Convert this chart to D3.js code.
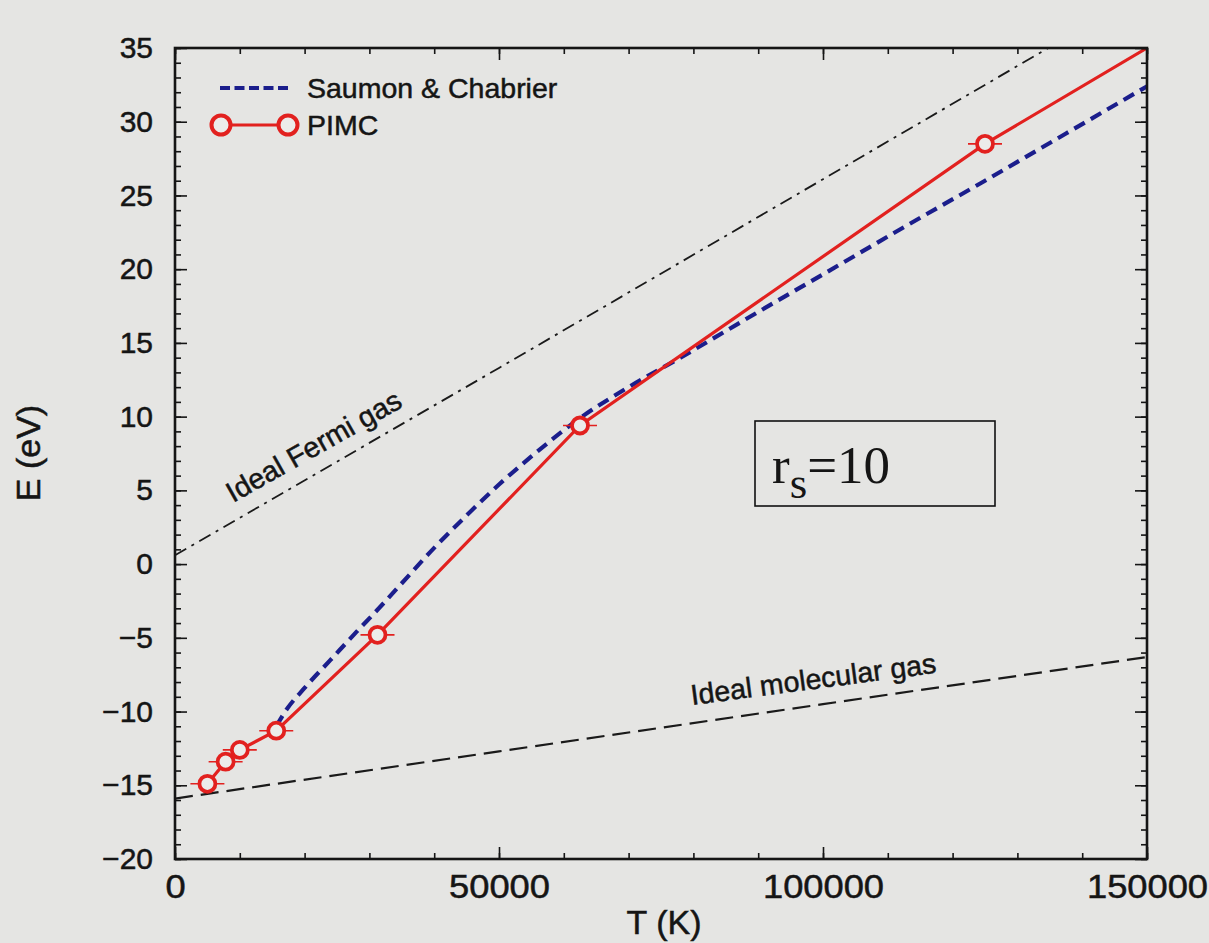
<!DOCTYPE html>
<html>
<head>
<meta charset="utf-8">
<script src="https://cdn.jsdelivr.net/npm/d3@7"></script>
<style>
  html, body { margin: 0; padding: 0; background: #e5e5e3; }
  svg { display: block; }
  text { font-family: "Liberation Sans", Arial, Helvetica, sans-serif; fill: #151515;
         stroke: #151515; stroke-width: 0.5px; }
  text.serif { stroke: none; }
</style>
</head>
<body>
<svg id="chart" width="1209" height="943"></svg>
<script>
// Internal energy per atom of hydrogen at r_s = 10 versus temperature.

// PIMC results (T in K, E in eV); the last point lies beyond the plotted range
const pimcT = [5000, 7812, 10000, 15625, 31250, 62500, 125000, 250000];
const pimcE = [-14.9, -13.4, -12.6, -11.3, -4.8, 9.4, 28.5, 61.0];

// Saumon & Chabrier model
const scT = [15625, 17000, 20000, 24000, 28000, 31250, 35000, 40000, 45000, 50000,
             55000, 62500, 70000, 78000, 90000, 100000, 112500, 125000, 137500, 150000];
const scE = [-11.0, -10.0, -8.4, -6.5, -4.6, -3.1, -1.3, 1.1, 3.3, 5.4,
             7.3, 9.9, 12.0, 14.0, 17.1, 19.65, 22.85, 26.0, 29.2, 32.4];

// Ideal Fermi gas
const fermiT = [0, 50000, 100000, 150000];
const fermiE = [0.6, 13.3, 26.1, 38.9];

// Ideal molecular gas
const molT = [0, 50000, 100000, 150000];
const molE = [-15.9, -12.7, -9.5, -6.3];

// Axis ticks
const xMajor = [0, 50000, 100000, 150000];
const xMinor = d3.range(0, 150001, 10000);
const yMajor = [-20, -15, -10, -5, 0, 5, 10, 15, 20, 25, 30, 35];
const yMinor = d3.range(-20, 35.01, 1);

const W = 1209, H = 943;
const L = 175, R = 1147, T = 48, B = 859;

const svg = d3.select("#chart");
svg.append("rect").attr("width", W).attr("height", H).attr("fill", "#e5e5e3");

const x = d3.scaleLinear().domain([0, 150000]).range([L, R]);
const y = d3.scaleLinear().domain([-20, 35]).range([B, T]);

const red = "#e2211f", blue = "#1b1e8c", ink = "#151515";

svg.append("clipPath").attr("id", "plot")
  .append("rect").attr("x", L).attr("y", T).attr("width", R - L).attr("height", B - T);

const line = d3.line().x(d => x(d[0])).y(d => y(d[1]));
const smooth = d3.line().curve(d3.curveMonotoneX).x(d => x(d[0])).y(d => y(d[1]));
const zip = (a, b) => a.map((v, i) => [v, b[i]]);

const g = svg.append("g").attr("clip-path", "url(#plot)");

// Ideal Fermi gas (dash-dot)
g.append("path").datum(zip(fermiT, fermiE)).attr("d", line)
  .attr("fill", "none").attr("stroke", "#1a1a1a").attr("stroke-width", 1.8)
  .attr("stroke-dasharray", "13 6 3 6");

// Ideal molecular gas (dashed)
g.append("path").datum(zip(molT, molE)).attr("d", line)
  .attr("fill", "none").attr("stroke", "#1a1a1a").attr("stroke-width", 2.2)
  .attr("stroke-dasharray", "18 8");

// Saumon & Chabrier (blue dashed)
g.append("path").datum(zip(scT, scE)).attr("d", smooth)
  .attr("fill", "none").attr("stroke", blue).attr("stroke-width", 4.2)
  .attr("stroke-dasharray", "12 7");

// PIMC line
const pimc = zip(pimcT, pimcE);
g.append("path").datum(pimc).attr("d", line)
  .attr("fill", "none").attr("stroke", red).attr("stroke-width", 3.2);

// PIMC error bars (horizontal) and markers
const pts = g.selectAll(".pt").data(pimc.filter(d => d[0] <= 150000)).join("g").attr("class", "pt");
pts.append("line")
  .attr("x1", d => x(d[0]) - 17).attr("x2", d => x(d[0]) + 17)
  .attr("y1", d => y(d[1])).attr("y2", d => y(d[1]))
  .attr("stroke", red).attr("stroke-width", 1.6);
pts.append("circle")
  .attr("cx", d => x(d[0])).attr("cy", d => y(d[1])).attr("r", 8)
  .attr("fill", "#ececea").attr("stroke", red).attr("stroke-width", 3.8);

// Axes with inward ticks on all four sides
function styleAxis(sel) {
  sel.select(".domain").remove();
  sel.selectAll(".tick line").attr("stroke", ink).attr("stroke-width", 1.6);
}
const fmt = d => d3.format("d")(d);

svg.append("g").attr("transform", `translate(0,${B})`)
  .call(d3.axisBottom(x).tickValues(xMinor).tickSize(-6).tickFormat("")).call(styleAxis);
svg.append("g").attr("transform", `translate(0,${B})`)
  .call(d3.axisBottom(x).tickValues(xMajor).tickSize(-12).tickPadding(16).tickFormat(fmt))
  .call(styleAxis)
  .call(s => s.selectAll("text").attr("font-size", 33).attr("fill", ink)
    .attr("font-family", "Liberation Sans, Arial, sans-serif")
    .attr("transform", "scale(1.1,1)"));
svg.append("g").attr("transform", `translate(0,${T})`)
  .call(d3.axisTop(x).tickValues(xMinor).tickSize(-6).tickFormat("")).call(styleAxis);
svg.append("g").attr("transform", `translate(0,${T})`)
  .call(d3.axisTop(x).tickValues(xMajor).tickSize(-12).tickFormat("")).call(styleAxis);

svg.append("g").attr("transform", `translate(${L},0)`)
  .call(d3.axisLeft(y).tickValues(yMinor).tickSize(-6).tickFormat("")).call(styleAxis);
svg.append("g").attr("transform", `translate(${L},0)`)
  .call(d3.axisLeft(y).tickValues(yMajor).tickSize(-12).tickPadding(22).tickFormat(fmt))
  .call(styleAxis)
  .call(s => s.selectAll("text").attr("font-size", 30).attr("fill", ink)
    .attr("font-family", "Liberation Sans, Arial, sans-serif"));
svg.append("g").attr("transform", `translate(${R},0)`)
  .call(d3.axisRight(y).tickValues(yMinor).tickSize(-6).tickFormat("")).call(styleAxis);
svg.append("g").attr("transform", `translate(${R},0)`)
  .call(d3.axisRight(y).tickValues(yMajor).tickSize(-12).tickFormat("")).call(styleAxis);

// Frame
svg.append("rect").attr("x", L).attr("y", T).attr("width", R - L).attr("height", B - T)
  .attr("fill", "none").attr("stroke", ink).attr("stroke-width", 2.6);

// Axis titles
svg.append("text").attr("x", 664).attr("y", 934).attr("text-anchor", "middle")
  .attr("font-size", 34).text("T (K)");
svg.append("text").attr("transform", "translate(40,453) rotate(-90)").attr("text-anchor", "middle")
  .attr("font-size", 34).text("E (eV)");

// Curve labels
svg.append("text").attr("transform", "translate(233,503) rotate(-29.5)")
  .attr("font-size", 28.5).text("Ideal Fermi gas");
svg.append("text").attr("transform", "translate(692,705) rotate(-7.5)")
  .attr("font-size", 28.5).text("Ideal molecular gas");

// Legend
const leg = svg.append("g");
leg.append("line").attr("x1", 220).attr("x2", 292).attr("y1", 88).attr("y2", 88)
  .attr("stroke", blue).attr("stroke-width", 4.2).attr("stroke-dasharray", "10 4.5");
leg.append("text").attr("x", 307).attr("y", 98).attr("font-size", 28.5).text("Saumon & Chabrier");
leg.append("line").attr("x1", 221).attr("x2", 288).attr("y1", 125).attr("y2", 125)
  .attr("stroke", red).attr("stroke-width", 3.2);
[221, 288].forEach(cx => leg.append("circle").attr("cx", cx).attr("cy", 125).attr("r", 9.5)
  .attr("fill", "#ececea").attr("stroke", red).attr("stroke-width", 4));
leg.append("text").attr("x", 307).attr("y", 135).attr("font-size", 28.5).text("PIMC");

// r_s annotation box
svg.append("rect").attr("x", 755).attr("y", 421).attr("width", 240).attr("height", 85)
  .attr("fill", "none").attr("stroke", "#111").attr("stroke-width", 1.6);
const rs = svg.append("text").attr("class", "serif").attr("x", 772).attr("y", 483)
  .style("font-family", "'Liberation Serif', 'Times New Roman', serif").attr("font-size", 53);
rs.append("tspan").text("r");
rs.append("tspan").attr("dy", 15).attr("font-size", 45).text("s");
rs.append("tspan").attr("dy", -15).text("=10");
</script>
</body>
</html>
